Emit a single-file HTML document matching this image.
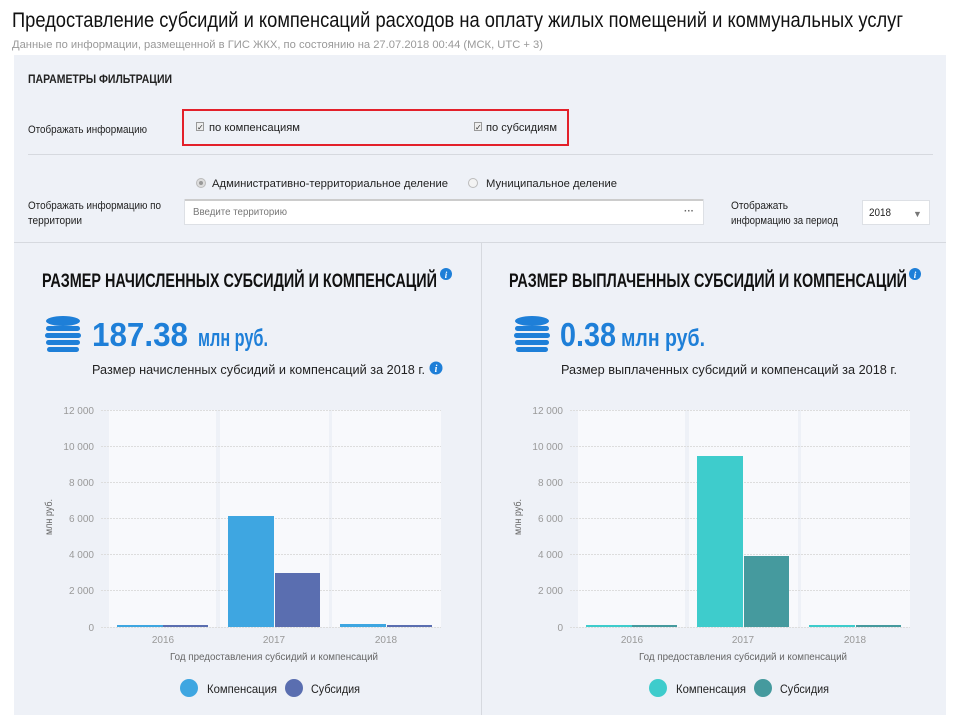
<!DOCTYPE html>
<html><head><meta charset="utf-8"><style>
*{margin:0;padding:0;box-sizing:border-box}
body{width:960px;height:720px;background:#fff;font-family:"Liberation Sans",sans-serif;position:relative;overflow:hidden;color:#222}
svg{position:absolute;left:0;top:0}
</style></head><body>
<svg width="960" height="720" font-family="Liberation Sans,sans-serif">
<defs>
<g id="coins" fill="#1e7fd8"><ellipse cx="19" cy="5" rx="17" ry="5"/><rect x="2" y="10" width="34" height="5" rx="2.5"/><rect x="1" y="17" width="36" height="5" rx="2.5"/><rect x="2" y="24" width="34" height="5" rx="2.5"/><rect x="3" y="31" width="32" height="5" rx="2.5"/></g>
</defs>
<text x="12" y="27" font-size="21" fill="#111" textLength="891" lengthAdjust="spacingAndGlyphs">Предоставление субсидий и компенсаций расходов на оплату жилых помещений и коммунальных услуг</text>
<text x="12" y="48" font-size="11" fill="#999" textLength="531" lengthAdjust="spacingAndGlyphs">Данные по информации, размещенной в ГИС ЖКХ, по состоянию на 27.07.2018 00:44 (МСК, UTC + 3)</text>
<rect x="14" y="55" width="932" height="660" fill="#eef1f7"/>
<text x="28" y="83" font-size="12" font-weight="bold" fill="#222" textLength="144" lengthAdjust="spacingAndGlyphs">ПАРАМЕТРЫ ФИЛЬТРАЦИИ</text>
<text x="28" y="133" font-size="11" fill="#222" textLength="119" lengthAdjust="spacingAndGlyphs">Отображать информацию</text>
<rect x="183" y="110" width="385" height="35" fill="none" stroke="#e3202a" stroke-width="2"/>
<rect x="196.5" y="122.5" width="7" height="8" fill="#eee" stroke="#999"/><text x="197" y="130" font-size="8" fill="#333">✓</text>
<text x="209" y="131" font-size="11" fill="#222" textLength="91" lengthAdjust="spacingAndGlyphs">по компенсациям</text>
<rect x="474.5" y="122.5" width="7" height="8" fill="#eee" stroke="#999"/><text x="475" y="130" font-size="8" fill="#333">✓</text>
<text x="486" y="131" font-size="11" fill="#222" textLength="71" lengthAdjust="spacingAndGlyphs">по субсидиям</text>
<rect x="28" y="154" width="905" height="1" fill="#d6d9df"/>
<circle cx="201" cy="183" r="4.5" fill="#ddd" stroke="#bbb"/><circle cx="201" cy="183" r="2" fill="#999"/>
<text x="212" y="187" font-size="11" fill="#222" textLength="236" lengthAdjust="spacingAndGlyphs">Административно-территориальное деление</text>
<circle cx="473" cy="183" r="4.5" fill="#f3f3f3" stroke="#bbb"/>
<text x="486" y="187" font-size="11" fill="#222" textLength="131" lengthAdjust="spacingAndGlyphs">Муниципальное деление</text>
<text x="28" y="209" font-size="11" fill="#222" textLength="133" lengthAdjust="spacingAndGlyphs">Отображать информацию по</text>
<text x="28" y="224" font-size="11" fill="#222" textLength="54" lengthAdjust="spacingAndGlyphs">территории</text>
<rect x="184.5" y="199.5" width="519" height="25" fill="#fff" stroke="#dde0e5"/><rect x="185" y="199" width="518" height="2" fill="#ccc"/>
<text x="193" y="215" font-size="10" fill="#777" textLength="94" lengthAdjust="spacingAndGlyphs">Введите территорию</text>
<text x="684" y="214" font-size="10" fill="#666" font-weight="bold">···</text>
<text x="731" y="209" font-size="11" fill="#222" textLength="57" lengthAdjust="spacingAndGlyphs">Отображать</text>
<text x="731" y="224" font-size="11" fill="#222" textLength="107" lengthAdjust="spacingAndGlyphs">информацию за период</text>
<rect x="862.5" y="200.5" width="67" height="24" fill="#fff" stroke="#dde0e5"/>
<text x="869" y="216" font-size="11" fill="#222" textLength="22" lengthAdjust="spacingAndGlyphs">2018</text>
<text x="913" y="217" font-size="9" fill="#777">▼</text>
<rect x="14" y="242" width="932" height="1" fill="#d6d9df"/>
<rect x="481" y="243" width="1" height="472" fill="#d6d9df"/>

<text x="42" y="287" font-size="19" font-weight="bold" fill="#111" textLength="395" lengthAdjust="spacingAndGlyphs">РАЗМЕР НАЧИСЛЕННЫХ СУБСИДИЙ И КОМПЕНСАЦИЙ</text>
<circle cx="446" cy="274" r="6" fill="#1e7fd8"/><text x="446" y="278" font-size="9" font-weight="bold" font-style="italic" fill="#fff" text-anchor="middle" font-family="Liberation Serif,serif">i</text>
<use href="#coins" x="44" y="316"/>
<text x="92" y="346" font-size="33" font-weight="bold" fill="#1e7fd8" textLength="96" lengthAdjust="spacingAndGlyphs">187.38</text>
<text x="198" y="346" font-size="24" font-weight="bold" fill="#1e7fd8" textLength="70" lengthAdjust="spacingAndGlyphs">млн руб.</text>
<text x="92" y="374" font-size="13" fill="#222" textLength="333" lengthAdjust="spacingAndGlyphs">Размер начисленных субсидий и компенсаций за 2018 г.</text>
<circle cx="436" cy="368" r="6.5" fill="#1e7fd8"/><text x="436" y="372" font-size="10" font-weight="bold" font-style="italic" fill="#fff" text-anchor="middle" font-family="Liberation Serif,serif">i</text>

<text x="509" y="287" font-size="19" font-weight="bold" fill="#111" textLength="398" lengthAdjust="spacingAndGlyphs">РАЗМЕР ВЫПЛАЧЕННЫХ СУБСИДИЙ И КОМПЕНСАЦИЙ</text>
<circle cx="915" cy="274" r="6" fill="#1e7fd8"/><text x="915" y="278" font-size="9" font-weight="bold" font-style="italic" fill="#fff" text-anchor="middle" font-family="Liberation Serif,serif">i</text>
<use href="#coins" x="513" y="316"/>
<text x="560" y="346" font-size="33" font-weight="bold" fill="#1e7fd8" textLength="56" lengthAdjust="spacingAndGlyphs">0.38</text>
<text x="621" y="346" font-size="24" font-weight="bold" fill="#1e7fd8" textLength="84" lengthAdjust="spacingAndGlyphs">млн руб.</text>
<text x="561" y="374" font-size="13" fill="#222" textLength="336" lengthAdjust="spacingAndGlyphs">Размер выплаченных субсидий и компенсаций за 2018 г.</text>

<g>
<rect x="109" y="410" width="107" height="217" fill="#f8f9fc"/>
<rect x="220" y="410" width="109" height="217" fill="#f8f9fc"/>
<rect x="332" y="410" width="109" height="217" fill="#f8f9fc"/>
<g stroke="#ddd" stroke-dasharray="2,1">
<line x1="101" x2="441" y1="410.5" y2="410.5"/><line x1="101" x2="441" y1="446.5" y2="446.5"/><line x1="101" x2="441" y1="482.5" y2="482.5"/><line x1="101" x2="441" y1="518.5" y2="518.5"/><line x1="101" x2="441" y1="554.5" y2="554.5"/><line x1="101" x2="441" y1="590.5" y2="590.5"/><line x1="101" x2="441" y1="627.5" y2="627.5"/>
</g>
<rect x="117" y="625" width="46" height="2" fill="#3ea6e1"/><rect x="163" y="625" width="45" height="2" fill="#5a6eb0"/>
<rect x="228" y="516" width="46" height="111" fill="#3ea6e1"/><rect x="275" y="573" width="45" height="54" fill="#5a6eb0"/>
<rect x="340" y="624" width="46" height="3" fill="#3ea6e1"/><rect x="387" y="625" width="45" height="2" fill="#5a6eb0"/>
</g>
<g transform="translate(469,0)">
<rect x="109" y="410" width="107" height="217" fill="#f8f9fc"/>
<rect x="220" y="410" width="109" height="217" fill="#f8f9fc"/>
<rect x="332" y="410" width="109" height="217" fill="#f8f9fc"/>
<g stroke="#ddd" stroke-dasharray="2,1">
<line x1="101" x2="441" y1="410.5" y2="410.5"/><line x1="101" x2="441" y1="446.5" y2="446.5"/><line x1="101" x2="441" y1="482.5" y2="482.5"/><line x1="101" x2="441" y1="518.5" y2="518.5"/><line x1="101" x2="441" y1="554.5" y2="554.5"/><line x1="101" x2="441" y1="590.5" y2="590.5"/><line x1="101" x2="441" y1="627.5" y2="627.5"/>
</g>
<rect x="117" y="625" width="46" height="2" fill="#3ecccc"/><rect x="163" y="625" width="45" height="2" fill="#459a9e"/>
<rect x="228" y="456" width="46" height="171" fill="#3ecccc"/><rect x="275" y="556" width="45" height="71" fill="#459a9e"/>
<rect x="340" y="625" width="46" height="2" fill="#3ecccc"/><rect x="387" y="625" width="45" height="2" fill="#459a9e"/>
</g>
<g font-size="10" fill="#999" text-anchor="end">
<text x="94" y="414">12 000</text><text x="94" y="450">10 000</text><text x="94" y="486">8 000</text><text x="94" y="522">6 000</text><text x="94" y="558">4 000</text><text x="94" y="594">2 000</text><text x="94" y="631">0</text>
<text x="563" y="414">12 000</text><text x="563" y="450">10 000</text><text x="563" y="486">8 000</text><text x="563" y="522">6 000</text><text x="563" y="558">4 000</text><text x="563" y="594">2 000</text><text x="563" y="631">0</text>
</g>
<g font-size="10" fill="#999" text-anchor="middle">
<text x="163" y="643">2016</text><text x="274" y="643">2017</text><text x="386" y="643">2018</text>
<text x="632" y="643">2016</text><text x="743" y="643">2017</text><text x="855" y="643">2018</text>
</g>
<g font-size="10" fill="#666">
<text x="170" y="660" textLength="208" lengthAdjust="spacingAndGlyphs">Год предоставления субсидий и компенсаций</text>
<text x="639" y="660" textLength="208" lengthAdjust="spacingAndGlyphs">Год предоставления субсидий и компенсаций</text>
<text transform="translate(52,535) rotate(-90)" textLength="36" lengthAdjust="spacingAndGlyphs">млн руб.</text>
<text transform="translate(521,535) rotate(-90)" textLength="36" lengthAdjust="spacingAndGlyphs">млн руб.</text>
</g>
<circle cx="189" cy="688" r="9" fill="#3ea6e1"/><circle cx="294" cy="688" r="9" fill="#5a6eb0"/>
<circle cx="658" cy="688" r="9" fill="#3ecccc"/><circle cx="763" cy="688" r="9" fill="#459a9e"/>
<g font-size="12" fill="#222">
<text x="207" y="693" textLength="70" lengthAdjust="spacingAndGlyphs">Компенсация</text><text x="311" y="693" textLength="49" lengthAdjust="spacingAndGlyphs">Субсидия</text>
<text x="676" y="693" textLength="70" lengthAdjust="spacingAndGlyphs">Компенсация</text><text x="780" y="693" textLength="49" lengthAdjust="spacingAndGlyphs">Субсидия</text>
</g>
</svg>
</body></html>
